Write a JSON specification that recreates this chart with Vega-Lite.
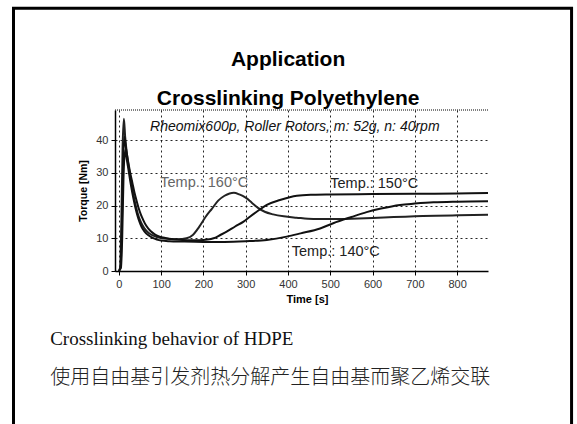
{
  "$schema": "https://vega.github.io/schema/vega-lite/v6.json",
  "width": 373,
  "height": 161,
  "autosize": {"type": "none"},
  "padding": {"left": 115, "top": 110, "right": 89, "bottom": 153},
  "background": "white",
  "config": {"view": {"stroke": null}, "font": "Liberation Sans"},
  "layer": [
    {
      "data": {"values": [{}]},
      "mark": {"type": "rect", "fill": null, "stroke": "#000", "strokeWidth": 3},
      "encoding": {
        "x": {"datum": -249, "type": "quantitative", "scale": {"domain": [-9, 873], "nice": false, "zero": false}},
        "x2": {"datum": 1070.6},
        "y": {"datum": 80.3, "type": "quantitative", "scale": {"domain": [0, 49.2], "nice": false, "zero": false}},
        "y2": {"datum": -60}
      }
    },
    {
      "data": {"values": [{}]},
      "mark": {"type": "rule", "stroke": "#000", "strokeDash": [1, 1], "strokeWidth": 1},
      "encoding": {"y": {"datum": 49.2, "type": "quantitative"}}
    },
    {
      "data": {
        "values": [
          {"series": "160", "t": 0, "v": 0}, {"series": "160", "t": 3, "v": 1}, {"series": "160", "t": 6, "v": 15}, {"series": "160", "t": 9, "v": 38}, {"series": "160", "t": 12, "v": 46.5}, {"series": "160", "t": 15, "v": 41}, {"series": "160", "t": 20, "v": 35}, {"series": "160", "t": 25, "v": 30.5}, {"series": "160", "t": 30, "v": 26.5}, {"series": "160", "t": 35, "v": 23}, {"series": "160", "t": 40, "v": 20}, {"series": "160", "t": 45, "v": 17.5}, {"series": "160", "t": 50, "v": 15.6}, {"series": "160", "t": 55, "v": 14.2}, {"series": "160", "t": 60, "v": 13.1}, {"series": "160", "t": 70, "v": 11.7}, {"series": "160", "t": 80, "v": 10.9}, {"series": "160", "t": 90, "v": 10.4}, {"series": "160", "t": 100, "v": 10.1}, {"series": "160", "t": 120, "v": 9.8}, {"series": "160", "t": 140, "v": 9.7}, {"series": "160", "t": 160, "v": 10}, {"series": "160", "t": 175, "v": 11}, {"series": "160", "t": 190, "v": 13.5}, {"series": "160", "t": 205, "v": 16.5}, {"series": "160", "t": 220, "v": 19}, {"series": "160", "t": 235, "v": 21.5}, {"series": "160", "t": 250, "v": 23}, {"series": "160", "t": 262, "v": 23.7}, {"series": "160", "t": 272, "v": 23.9}, {"series": "160", "t": 285, "v": 23.4}, {"series": "160", "t": 300, "v": 22.4}, {"series": "160", "t": 315, "v": 20.8}, {"series": "160", "t": 330, "v": 19.2}, {"series": "160", "t": 345, "v": 18.1}, {"series": "160", "t": 365, "v": 17.3}, {"series": "160", "t": 390, "v": 16.7}, {"series": "160", "t": 420, "v": 16.3}, {"series": "160", "t": 460, "v": 15.9}, {"series": "160", "t": 500, "v": 15.9}, {"series": "160", "t": 550, "v": 16}, {"series": "160", "t": 600, "v": 16.2}, {"series": "160", "t": 650, "v": 16.5}, {"series": "160", "t": 700, "v": 16.7}, {"series": "160", "t": 750, "v": 16.9}, {"series": "160", "t": 800, "v": 17}, {"series": "160", "t": 873, "v": 17.2},
          {"series": "150", "t": 0, "v": 0}, {"series": "150", "t": 4, "v": 1}, {"series": "150", "t": 7, "v": 12}, {"series": "150", "t": 10, "v": 32}, {"series": "150", "t": 13, "v": 41}, {"series": "150", "t": 17, "v": 37.5}, {"series": "150", "t": 22, "v": 33.5}, {"series": "150", "t": 27, "v": 30}, {"series": "150", "t": 32, "v": 27}, {"series": "150", "t": 37, "v": 24}, {"series": "150", "t": 42, "v": 21.5}, {"series": "150", "t": 47, "v": 19.2}, {"series": "150", "t": 52, "v": 17.3}, {"series": "150", "t": 57, "v": 15.8}, {"series": "150", "t": 65, "v": 13.8}, {"series": "150", "t": 75, "v": 12.2}, {"series": "150", "t": 85, "v": 11.2}, {"series": "150", "t": 95, "v": 10.6}, {"series": "150", "t": 110, "v": 10.1}, {"series": "150", "t": 130, "v": 9.7}, {"series": "150", "t": 150, "v": 9.5}, {"series": "150", "t": 170, "v": 9.4}, {"series": "150", "t": 190, "v": 9.4}, {"series": "150", "t": 210, "v": 9.6}, {"series": "150", "t": 224, "v": 10}, {"series": "150", "t": 240, "v": 11}, {"series": "150", "t": 255, "v": 12}, {"series": "150", "t": 275, "v": 13.6}, {"series": "150", "t": 295, "v": 15.1}, {"series": "150", "t": 310, "v": 16.6}, {"series": "150", "t": 326, "v": 18.1}, {"series": "150", "t": 350, "v": 20.2}, {"series": "150", "t": 381, "v": 21.7}, {"series": "150", "t": 421, "v": 23}, {"series": "150", "t": 460, "v": 23.3}, {"series": "150", "t": 500, "v": 23.4}, {"series": "150", "t": 600, "v": 23.5}, {"series": "150", "t": 700, "v": 23.6}, {"series": "150", "t": 800, "v": 23.7}, {"series": "150", "t": 873, "v": 23.8},
          {"series": "140", "t": 0, "v": 0}, {"series": "140", "t": 5, "v": 1}, {"series": "140", "t": 8, "v": 10}, {"series": "140", "t": 11, "v": 28}, {"series": "140", "t": 15, "v": 37}, {"series": "140", "t": 19, "v": 34}, {"series": "140", "t": 24, "v": 30}, {"series": "140", "t": 29, "v": 26}, {"series": "140", "t": 34, "v": 22.5}, {"series": "140", "t": 39, "v": 19.5}, {"series": "140", "t": 44, "v": 17}, {"series": "140", "t": 49, "v": 15}, {"series": "140", "t": 54, "v": 13.4}, {"series": "140", "t": 60, "v": 12.2}, {"series": "140", "t": 70, "v": 10.9}, {"series": "140", "t": 80, "v": 10.1}, {"series": "140", "t": 90, "v": 9.6}, {"series": "140", "t": 100, "v": 9.3}, {"series": "140", "t": 120, "v": 9.1}, {"series": "140", "t": 150, "v": 9}, {"series": "140", "t": 200, "v": 8.9}, {"series": "140", "t": 250, "v": 8.9}, {"series": "140", "t": 300, "v": 9.1}, {"series": "140", "t": 350, "v": 9.5}, {"series": "140", "t": 397, "v": 10.5}, {"series": "140", "t": 430, "v": 11.5}, {"series": "140", "t": 476, "v": 13}, {"series": "140", "t": 507, "v": 14.6}, {"series": "140", "t": 550, "v": 16.5}, {"series": "140", "t": 586, "v": 18}, {"series": "140", "t": 620, "v": 19.1}, {"series": "140", "t": 665, "v": 20.2}, {"series": "140", "t": 700, "v": 20.6}, {"series": "140", "t": 744, "v": 21}, {"series": "140", "t": 800, "v": 21.2}, {"series": "140", "t": 873, "v": 21.3}
        ]
      },
      "mark": {"type": "line", "strokeWidth": 2, "interpolate": "monotone"},
      "encoding": {
        "x": {
          "field": "t", "type": "quantitative",
          "axis": {
            "values": [0, 50, 100, 150, 200, 250, 300, 350, 400, 450, 500, 550, 600, 650, 700, 750, 800, 850],
            "labelExpr": "datum.value % 100 === 0 ? datum.label : ''",
            "format": "d",
            "grid": true, "gridDash": [2, 3], "gridColor": "#000", "gridOpacity": 0.85, "gridWidth": 1,
            "domainColor": "#000", "domainWidth": 1.5, "tickColor": "#000", "tickSize": 4,
            "labelFont": "Liberation Sans", "labelFontSize": 11, "labelColor": "#333", "labelPadding": 3,
            "title": "Time [s]", "titleFont": "Liberation Sans", "titleFontSize": 11, "titleFontWeight": "bold", "titleColor": "#000", "titlePadding": 4, "titleX": 192
          }
        },
        "y": {
          "field": "v", "type": "quantitative",
          "axis": {
            "values": [0, 10, 20, 30, 40],
            "grid": true, "gridDash": [2, 3], "gridColor": "#000", "gridOpacity": 0.85, "gridWidth": 1,
            "domainColor": "#000", "domainWidth": 1.5, "tickColor": "#000", "tickSize": 4,
            "labelFont": "Liberation Sans", "labelFontSize": 11, "labelColor": "#333", "labelPadding": 3,
            "title": "Torque [Nm]", "titleFont": "Liberation Sans", "titleFontSize": 10.5, "titleFontWeight": "bold", "titleColor": "#000", "titlePadding": 7
          }
        },
        "color": {"field": "series", "type": "nominal", "scale": {"domain": ["160", "150", "140"], "range": ["#222", "#111", "#111"]}, "legend": null}
      }
    },
    {
      "data": {"values": [{"t": 400.3, "v": 62.5, "label": "Application"}, {"t": 400.3, "v": 50.8, "label": "Crosslinking Polyethylene"}]},
      "mark": {"type": "text", "align": "center", "baseline": "alphabetic", "font": "Liberation Sans", "fontWeight": "bold", "fontSize": 21, "color": "#000"},
      "encoding": {"x": {"field": "t", "type": "quantitative"}, "y": {"field": "v", "type": "quantitative"}, "text": {"field": "label"}}
    },
    {
      "data": {"values": [{"t": 74, "v": 42.9, "label": "Rheomix600p, Roller Rotors, m: 52g, n: 40rpm"}]},
      "mark": {"type": "text", "align": "left", "baseline": "alphabetic", "font": "Liberation Sans", "fontStyle": "italic", "fontSize": 14, "color": "#111"},
      "encoding": {"x": {"field": "t", "type": "quantitative"}, "y": {"field": "v", "type": "quantitative"}, "text": {"field": "label"}}
    },
    {
      "data": {"values": [{"t": 98, "v": 25.8, "label": "Temp.: 160°C"}]},
      "mark": {"type": "text", "align": "left", "baseline": "alphabetic", "font": "Liberation Sans", "fontSize": 14.5, "color": "#666"},
      "encoding": {"x": {"field": "t", "type": "quantitative"}, "y": {"field": "v", "type": "quantitative"}, "text": {"field": "label"}}
    },
    {
      "data": {"values": [{"t": 500, "v": 25.3, "label": "Temp.: 150°C"}, {"t": 409, "v": 4.7, "label": "Temp.: 140°C"}]},
      "mark": {"type": "text", "align": "left", "baseline": "alphabetic", "font": "Liberation Sans", "fontSize": 14.5, "color": "#222"},
      "encoding": {"x": {"field": "t", "type": "quantitative"}, "y": {"field": "v", "type": "quantitative"}, "text": {"field": "label"}}
    },
    {
      "data": {"values": [{"t": -162.4, "v": -22.6, "label": "Crosslinking behavior of HDPE"}]},
      "mark": {"type": "text", "align": "left", "baseline": "alphabetic", "font": "Liberation Serif", "fontSize": 19, "color": "#111"},
      "encoding": {"x": {"field": "t", "type": "quantitative"}, "y": {"field": "v", "type": "quantitative"}, "text": {"field": "label"}}
    },
    {
      "data": {"values": [{"t": -162.4, "v": -32.7, "label": "使用自由基引发剂热分解产生自由基而聚乙烯交联"}]},
      "mark": {"type": "text", "align": "left", "baseline": "middle", "font": "Noto Sans CJK SC", "fontWeight": 300, "fontSize": 20, "color": "#222"},
      "encoding": {"x": {"field": "t", "type": "quantitative"}, "y": {"field": "v", "type": "quantitative"}, "text": {"field": "label"}}
    }
  ]
}
